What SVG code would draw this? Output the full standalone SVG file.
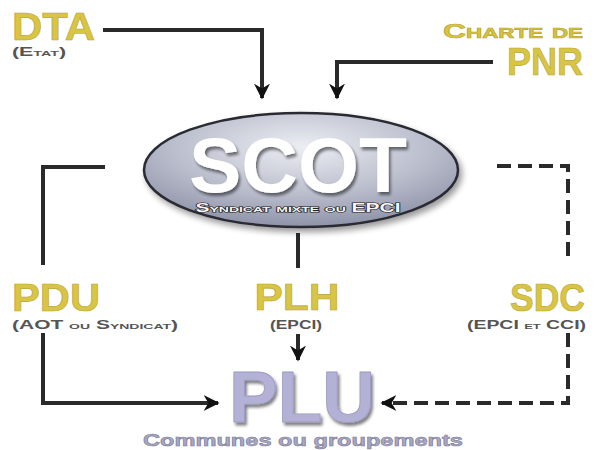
<svg xmlns="http://www.w3.org/2000/svg" width="596" height="450" viewBox="0 0 596 450">
<defs>
<style>
.t{font-family:"Liberation Sans",Arial,sans-serif;font-weight:bold}
.gold{fill:#d8c445;stroke:#b8a530;stroke-width:0.6}
.sub{fill:#555;font-size:12px;font-variant:small-caps}
.ln{fill:none;stroke:#2a2a2a;stroke-width:4}
.ds{fill:none;stroke:#2a2a2a;stroke-width:4;stroke-dasharray:14,7}
</style>
<marker id="ah" viewBox="0 0 10 10" refX="9" refY="5" markerWidth="4" markerHeight="4" orient="auto" markerUnits="strokeWidth">
<path d="M0,0 L10,5 L0,10 L3,5 z" fill="#111"/>
</marker>
<radialGradient id="eg" cx="0.5" cy="0.3" r="0.7">
<stop offset="0" stop-color="#eceef3"/>
<stop offset="0.6" stop-color="#b9bccb"/>
<stop offset="1" stop-color="#8f93a8"/>
</radialGradient>
<filter id="sh" x="-20%" y="-20%" width="140%" height="150%">
<feGaussianBlur in="SourceAlpha" stdDeviation="3"/>
<feOffset dx="3" dy="4"/>
<feComponentTransfer><feFuncA type="linear" slope="0.4"/></feComponentTransfer>
<feMerge><feMergeNode/><feMergeNode in="SourceGraphic"/></feMerge>
</filter>
<filter id="ts" x="-10%" y="-10%" width="130%" height="140%">
<feGaussianBlur in="SourceAlpha" stdDeviation="1.5"/>
<feOffset dx="2" dy="3"/>
<feComponentTransfer><feFuncA type="linear" slope="0.5"/></feComponentTransfer>
<feMerge><feMergeNode/><feMergeNode in="SourceGraphic"/></feMerge>
</filter>
</defs>
<rect width="596" height="450" fill="#ffffff"/>
<g id="connectors">
<path class="ln" d="M103,30 H262 V98" marker-end="url(#ah)"/>
<path class="ln" d="M493,62 H337 V98" marker-end="url(#ah)"/>
<path class="ln" d="M105,167 H43 V265"/>
<path class="ln" d="M43,333 V403 H218" marker-end="url(#ah)"/>
<path class="ln" d="M298,233 V268"/>
<path class="ln" d="M298,334 V360" marker-end="url(#ah)"/>
<path class="ds" d="M497,166 H568 V262"/>
<path class="ds" d="M568,333 V403 H382" marker-end="url(#ah)"/>
</g>
<g id="dta">
<text class="t gold" x="12" y="40" font-size="38" textLength="83" lengthAdjust="spacingAndGlyphs">DTA</text>
<text class="t sub" x="12" y="56" textLength="54" lengthAdjust="spacingAndGlyphs">(Etat)</text>
</g>
<g id="pnr">
<text class="t gold" x="583" y="38" font-size="20" text-anchor="end" style="font-variant:small-caps" textLength="140" lengthAdjust="spacingAndGlyphs">Charte de</text>
<text class="t gold" x="583" y="75" font-size="38" text-anchor="end" textLength="76" lengthAdjust="spacingAndGlyphs">PNR</text>
</g>
<g id="scot">
<ellipse cx="301" cy="170" rx="157" ry="57" fill="url(#eg)" stroke="#2b2b33" stroke-width="2.5" filter="url(#sh)"/>
<text class="t" x="298" y="192" font-size="78" text-anchor="middle" fill="#ffffff" filter="url(#ts)" textLength="218" lengthAdjust="spacingAndGlyphs">SCOT</text>
<text class="t" x="298" y="212" font-size="12" text-anchor="middle" fill="#f4f4f4" stroke="#222" stroke-width="1.2" paint-order="stroke" style="font-variant:small-caps" textLength="205" lengthAdjust="spacingAndGlyphs">Syndicat mixte ou EPCI</text>
</g>
<g id="pdu">
<text class="t gold" x="12" y="311" font-size="38" textLength="88" lengthAdjust="spacingAndGlyphs">PDU</text>
<text class="t sub" x="12" y="329" textLength="166" lengthAdjust="spacingAndGlyphs">(AOT ou Syndicat)</text>
</g>
<g id="plh">
<text class="t gold" x="297" y="310" font-size="37" text-anchor="middle" textLength="85" lengthAdjust="spacingAndGlyphs">PLH</text>
<text class="t sub" x="296" y="329" text-anchor="middle" textLength="52" lengthAdjust="spacingAndGlyphs">(EPCI)</text>
</g>
<g id="sdc">
<text class="t gold" x="585" y="311" font-size="38" text-anchor="end" textLength="75" lengthAdjust="spacingAndGlyphs">SDC</text>
<text class="t sub" x="586" y="329" text-anchor="end" textLength="119" lengthAdjust="spacingAndGlyphs">(EPCI et CCI)</text>
</g>
<g id="plu">
<text class="t" x="302" y="422" font-size="72" text-anchor="middle" fill="#b3b1d6" stroke="#9b99c2" stroke-width="0.8" filter="url(#ts)" textLength="146" lengthAdjust="spacingAndGlyphs">PLU</text>
<text class="t" x="303" y="446" font-size="17" text-anchor="middle" fill="#a9a8c6" stroke="#7d7c98" stroke-width="0.6" textLength="320" lengthAdjust="spacingAndGlyphs">Communes ou groupements</text>
</g>
</svg>
